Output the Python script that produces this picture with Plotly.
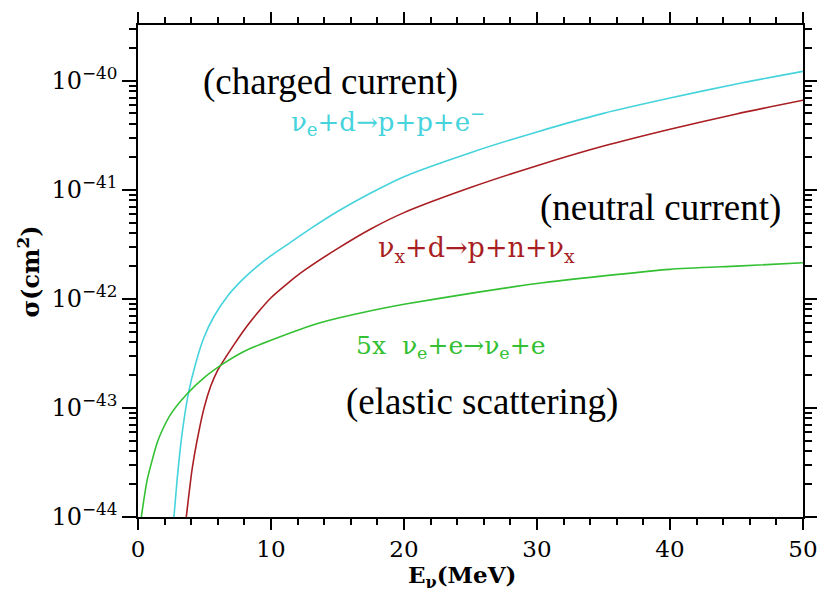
import plotly.graph_objects as go

# ---- data ----
E_cc = [2.7, 2.94, 3.3, 3.8, 4.34, 4.97, 5.72, 6.7, 7.72, 8.7, 10, 11.2, 13, 15, 17.5, 20,
        25, 30, 35, 40, 45, 50]
logsig_cc = [-44.0, -43.66, -43.25, -42.86, -42.59, -42.35, -42.16, -41.98, -41.84, -41.73,
             -41.605, -41.505, -41.355, -41.2, -41.03, -40.88, -40.66, -40.47, -40.3, -40.16,
             -40.03, -39.915]

E_nc = [3.63, 4.07, 4.44, 4.97, 5.47, 5.97, 6.47, 7.22, 8.2, 8.98, 10, 11.23, 12.5, 15,
        17.5, 20, 25, 30, 35, 40, 45, 50]
logsig_nc = [-44.0, -43.56, -43.3, -43.0, -42.8, -42.66, -42.56, -42.42, -42.25, -42.13,
             -41.99, -41.86, -41.74, -41.54, -41.36, -41.21, -40.98, -40.78, -40.6, -40.445,
             -40.305, -40.18]

E_es = [0.25, 0.69, 1.44, 1.84, 2.5, 3.7, 5, 6.47, 8, 10, 13.7, 17.5, 20, 25, 30, 35, 40,
        45, 50]
logsig_es = [-44.0, -43.66, -43.32, -43.2, -43.05, -42.87, -42.72, -42.59, -42.48, -42.38,
             -42.22, -42.11, -42.05, -41.95, -41.86, -41.79, -41.73, -41.7, -41.67]

sig_cc = [10 ** v for v in logsig_cc]
sig_nc = [10 ** v for v in logsig_nc]
sig_es = [10 ** v for v in logsig_es]

x_ticks = [0, 10, 20, 30, 40, 50]
x_minor = [v for v in range(0, 51, 2) if v % 10 != 0]
y_tickvals = [1e-44, 1e-43, 1e-42, 1e-41, 1e-40]
y_ticktext = ["10<sup>−44</sup>", "10<sup>−43</sup>", "10<sup>−42</sup>",
              "10<sup>−41</sup>", "10<sup>−40</sup>"]
y_minor = [m * 10.0 ** e for e in range(-44, -39) for m in range(2, 10)]

C_CC = "#45d3dc"
C_NC = "#a81e22"
C_ES = "#33c033"
LAB = "DejaVu Serif, serif"
SERIF = "Liberation Serif, Times New Roman, serif"

fig = go.Figure()
for xs, ys, col in [(E_cc, sig_cc, C_CC), (E_nc, sig_nc, C_NC), (E_es, sig_es, C_ES)]:
    fig.add_trace(go.Scatter(x=xs, y=ys, mode="lines",
                             line=dict(color=col, width=1.6, shape="spline", smoothing=0.6),
                             showlegend=False, hoverinfo="skip"))

ann = [
    ("(charged current)", 14.46, -40.01, "black", SERIF, 37),
    ("ν<sub>e</sub>+d→p+p+e<sup>−</sup>", 18.78, -40.37, C_CC, LAB, 26),
    ("(neutral current)", 39.26, -41.17, "black", SERIF, 37),
    ("ν<sub>x</sub>+d→p+n+ν<sub>x</sub>", 25.43, -41.55, C_NC, LAB, 27),
    ("5x\u00a0 ν<sub>e</sub>+e→ν<sub>e</sub>+e", 23.48, -42.44, C_ES, LAB, 25),
    ("(elastic scattering)", 25.88, -42.95, "black", SERIF, 37),
]
for t, x, y, c, f, s in ann:
    fig.add_annotation(text=t, x=x, y=y, xref="x", yref="y", showarrow=False,
                       font=dict(family=f, size=s, color=c), xanchor="center", yanchor="middle")

# axis titles
fig.add_annotation(text="<b>E<sub>ν</sub>(MeV)</b>", xref="paper", yref="paper",
                   x=(462 - 137.5) / 665.5, y=(517 - 576) / 492, showarrow=False,
                   xanchor="center", yanchor="middle",
                   font=dict(family=LAB, size=23, color="black"))
fig.add_annotation(text="<b>σ(cm<sup>2</sup>)</b>", xref="paper", yref="paper",
                   x=(28 - 137.5) / 665.5, y=(517 - 272) / 492, showarrow=False,
                   textangle=-90, xanchor="center", yanchor="middle",
                   font=dict(family=LAB, size=24, color="black"))

fig.update_xaxes(range=[0, 50], tickmode="array", tickvals=x_ticks,
                 showline=True, linecolor="black", linewidth=1.5,
                 mirror="ticks", ticks="outside", ticklen=11, tickwidth=1.5, tickcolor="black",
                 minor=dict(ticks="outside", tickmode="array", tickvals=x_minor, ticklen=6,
                            tickwidth=1.5, tickcolor="black", showgrid=False),
                 showgrid=False, zeroline=False, automargin=False, ticklabeloverflow="allow",
                 tickfont=dict(family=LAB, size=23, color="black"))
fig.update_yaxes(type="log", range=[-44, -39.49], tickmode="array", tickvals=y_tickvals,
                 ticktext=y_ticktext,
                 showline=True, linecolor="black", linewidth=1.5,
                 mirror="ticks", ticks="outside", ticklen=14, tickwidth=1.5, tickcolor="black",
                 minor=dict(ticks="outside", tickmode="array", tickvals=y_minor, ticklen=7,
                            tickwidth=1.5, tickcolor="black", showgrid=False),
                 showgrid=False, zeroline=False, automargin=False, ticklabeloverflow="allow",
                 tickfont=dict(family=LAB, size=24, color="black"))

fig.update_layout(width=817, height=594, margin=dict(l=137.5, r=14, t=25, b=77),
                  paper_bgcolor="white", plot_bgcolor="white")

fig.write_html("out.html", config={"displayModeBar": False},
               post_script="document.body.style.margin='0';document.body.style.padding='0';")
